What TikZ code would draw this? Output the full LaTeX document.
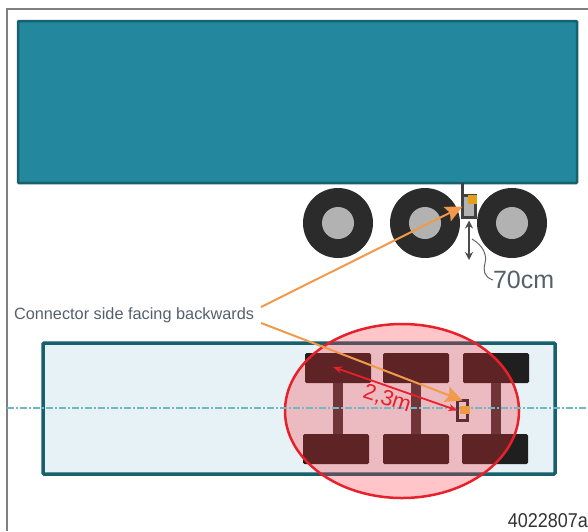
\documentclass[tikz,border=0pt]{standalone}
\usepackage{xcolor}
\usepackage{fontspec}
\setmainfont{Liberation Sans}
\usepackage{tikz}
\usetikzlibrary{positioning, arrows.meta, shapes.geometric}

\definecolor{tealfill}{HTML}{23879D}
\definecolor{tealedge}{HTML}{17606E}
\definecolor{paleblue}{HTML}{E6F2F6}
\definecolor{centreline}{HTML}{6FB8C4}
\definecolor{tyre}{HTML}{2B2B2B}
\definecolor{hub}{HTML}{B2B2B2}
\definecolor{connorange}{HTML}{F09A4A}
\definecolor{plugorange}{HTML}{E3A018}
\definecolor{zonered}{HTML}{E8202A}
\definecolor{zonefill}{HTML}{FF3038}
\definecolor{boxmaroon}{HTML}{5E2C34}
\definecolor{labelgrey}{HTML}{55606B}

\begin{document}
\begin{tikzpicture}[
      x=1pt, y=-1pt,
      every node/.style={outer sep=0pt, inner sep=0pt},
      truck/.style={
          draw=tealedge, rectangle, rounded corners=1pt,
          fill=tealfill, line width=2.5pt,
          minimum width=559pt, minimum height=162pt
        },
      trailer/.style={
          draw=tealedge, rectangle, rounded corners=1pt,
          fill=paleblue, line width=3.5pt,
          minimum width=512pt, minimum height=131pt
        },
      wheel/.style={
          circle, fill=tyre, minimum size=70pt
        },
      wheelhub/.style={
          circle, fill=hub, minimum size=32pt
        },
      block/.style={
          rectangle, rounded corners=1.5pt, fill=black!88,
          minimum width=66pt, minimum height=30pt
        },
      zone/.style={
          draw=zonered, ellipse, line width=2.5pt,
          fill=zonefill, fill opacity=0.28,
          minimum width=234pt, minimum height=174pt
        },
      plug/.style={
          rectangle, fill=plugorange
        },
      axle/.style={line width=10pt, color=black!78},
      midline/.style={line width=1.2pt, color=centreline,
          dash pattern=on 7pt off 2pt on 2pt off 2pt},
      pointer/.style={-{Stealth[length=17pt, width=16pt, inset=3pt]}, line width=2pt,
          color=connorange},
      dimarrow/.style={{Stealth[length=8pt, width=8pt]}-{Stealth[length=8pt, width=8pt]},
          line width=1.2pt, color=black!70},
      redarrow/.style={{Stealth[length=9pt, width=7pt]}-{Stealth[length=9pt, width=7pt]},
          line width=1.8pt, color=zonered}
    ]
    \useasboundingbox (0,0) rectangle (588,531);

    % ── Frame ──
    \draw[line width=1.5pt, color=black!50] (7,531) -- (7,9) -- (588,9);

    % ── Side view ──
    \node[truck] (truck) at (297.5,102) {};
    \node[wheel] (wheelb) at (425,223) {};
    \node[wheel, left=17pt of wheelb]  (wheela) {};
    \node[wheel, right=17pt of wheelb] (wheelc) {};
    \node[wheelhub] (huba) at (wheela) {};
    \node[wheelhub] (hubb) at (wheelb) {};
    \node[wheelhub] (hubc) at (wheelc) {};

    \node[draw=black!75, fill=hub, line width=3pt, minimum width=13pt,
      minimum height=22pt] (sidebox) at (469,206.5) {};
    \draw[line width=2.5pt, color=black!75]
    (truck.south -| sidebox.north west) -- (sidebox.north west);
    \node[plug, minimum size=9pt] (sideplug) at (472.5,199) {};

    % ── 70 cm dimension ──
    \coordinate (dimend) at (469,260);
    \coordinate (dimmid) at (472,239);
    \node[font=\fontsize{25}{25}\selectfont, color=labelgrey, anchor=west]
    (dimlab) at (493,280) {70cm};
    \draw[dimarrow, shorten <=3pt] (sidebox.south) -- (dimend);
    \draw[line width=1pt, color=black!60]
    (dimmid) .. controls (484,246) and (487,256) .. (485,263)
    .. controls (483,271) and (484,277) .. (dimlab.west);

    % ── Top view ──
    \node[trailer] (trailer) at (299,408.5) {};

    \node[block] (topa) at (338,368) {};
    \node[block, right=12pt of topa] (topb) {};
    \node[block, right=14pt of topb] (topc) {};
    \node[block, below=51pt of topa, xshift=-2pt] (bota) {};
    \node[block, below=51pt of topb] (botb) {};
    \node[block, below=51pt of topc, xshift=-1pt] (botc) {};

    \draw[axle] (topa.south) -- (bota.north -| topa.south);
    \draw[axle] (topb.south) -- (botb.north -| topb.south);
    \draw[axle] (topc.south) -- (botc.north -| topc.south);

    \node[zone] (zone) at (402,411) {};

    \coordinate (midleft)  at (7,408);
    \coordinate (midright) at (588,408);
    \draw[midline] (midleft) -- (midright);

    \node[draw=boxmaroon, line width=3.5pt, minimum width=10pt,
      minimum height=20pt] (topbox) at (462.5,410.5) {};
    \node[plug, fill=connorange!80!plugorange, minimum width=10pt,
      minimum height=8pt] (topplug) at (465,410) {};

    % ── 2,3 m distance ──
    \coordinate (redstart) at (333,367);
    \draw[redarrow] (redstart) -- (topbox.west);
    \node[font=\fontsize{22}{22}\selectfont, color=zonered, rotate=-18]
    (distlab) at (387,399) {2,3m};

    % ── Connector label and pointers ──
    \node[font=\fontsize{16.3}{17}\selectfont, color=labelgrey, anchor=west,
      minimum height=16pt, inner xsep=7pt] (conlab) at (7,315) {\raisebox{-2pt}{Connector side facing backwards}};
    \draw[pointer] (conlab.north east) -- (sidebox.west);
    \draw[pointer] (conlab.south east) -- (topbox.north);

    % ── Figure number ──
    \node[font=\fontsize{20}{20}\selectfont, color=black!80, anchor=east]
    (fignum) at (588,521) {\scalebox{0.9}[1]{4022807a}};

  \end{tikzpicture}
\end{document}
